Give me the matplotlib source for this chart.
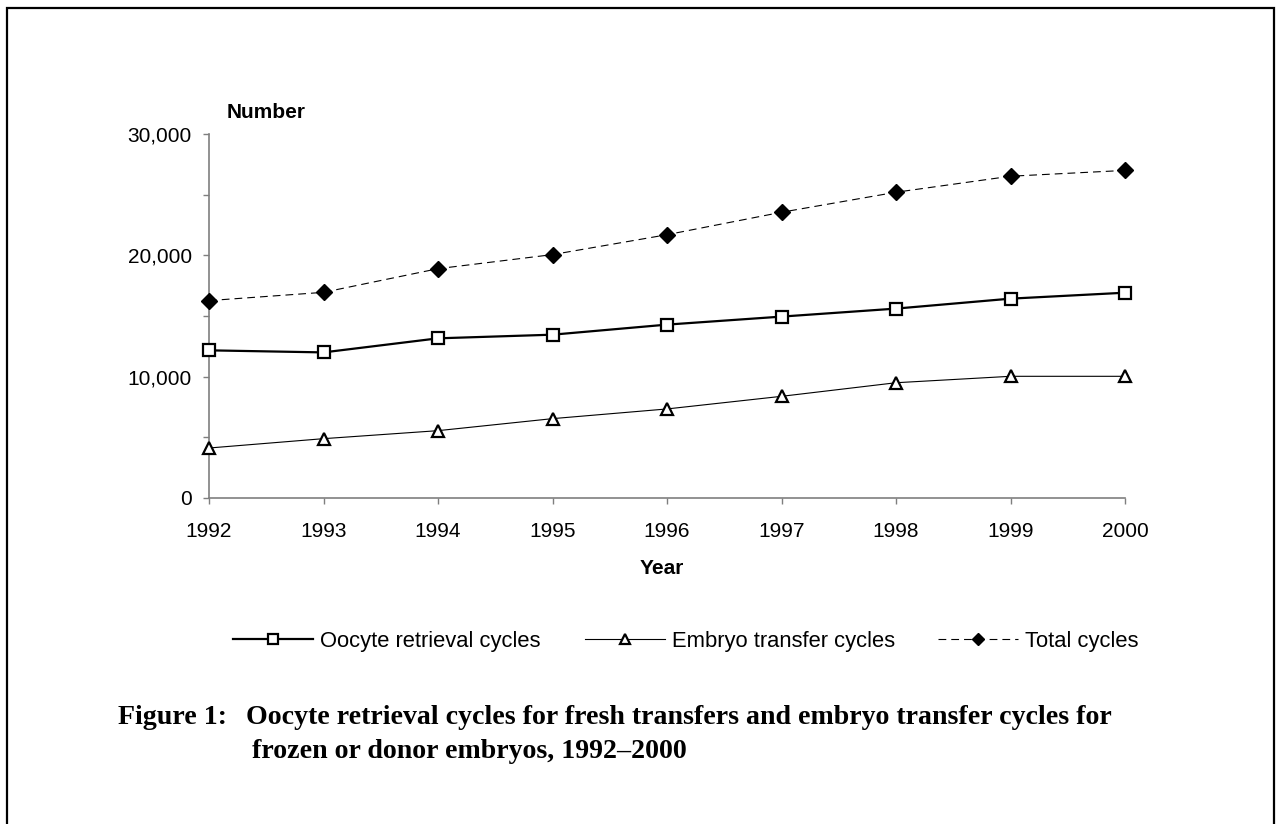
import matplotlib
matplotlib.use("Agg")
import matplotlib.pyplot as plt
from matplotlib.ticker import MultipleLocator, FuncFormatter
from matplotlib.patches import Rectangle

# data
years = [1992, 1993, 1994, 1995, 1996, 1997, 1998, 1999, 2000]
oocyte = [12170, 12000, 13160, 13460, 14290, 14950, 15610, 16430, 16920]
embryo = [4120, 4890, 5550, 6540, 7340, 8380, 9500, 10030, 10030]
total = [16270, 16950, 18900, 20060, 21700, 23550, 25200, 26520, 27000]
series_labels = ['Oocyte retrieval cycles', 'Embryo transfer cycles', 'Total cycles']

plt.rcParams['font.family'] = ['Liberation Sans', 'DejaVu Sans']
FS = 15

fig = plt.figure(figsize=(12.76, 8.24), dpi=100)
ax = fig.add_axes([209 / 1276, 1 - 498 / 824, 916 / 1276, 364 / 824])

l1, = ax.plot(years, oocyte, color='black', lw=1.6, marker='s', ms=9,
              mfc='white', mec='black', mew=1.6, clip_on=False, zorder=4)
l2, = ax.plot(years, embryo, color='black', lw=0.8, marker='^', ms=9,
              mfc='white', mec='black', mew=1.6, clip_on=False, zorder=4)
l3, = ax.plot(years, total, color='black', lw=0.8, ls=(0, (7, 4.5)), marker='D',
              ms=8, mfc='black', mec='black', clip_on=False, zorder=4)

ax.set_xlim(1992, 2000)
ax.set_ylim(0, 30000)
ax.set_xticks(years)
ax.yaxis.set_major_locator(MultipleLocator(10000))
ax.yaxis.set_minor_locator(MultipleLocator(5000))
ax.yaxis.set_major_formatter(FuncFormatter(lambda v, p: f"{int(v):,}"))

for side in ['top', 'right']:
    ax.spines[side].set_visible(False)
for side in ['left', 'bottom']:
    ax.spines[side].set_color('#7f7f7f')
    ax.spines[side].set_linewidth(1.2)

ax.tick_params(axis='both', which='both', direction='out', length=4,
               color='#7f7f7f', width=1.0, labelsize=FS)
ax.tick_params(axis='y', pad=8.5)
ax.tick_params(axis='x', pad=13)

fig.text(227 / 1276, 1 - 113 / 824, 'Number', fontsize=FS, fontweight='bold',
         ha='left', va='center')
fig.text(662 / 1276, 1 - 569 / 824, 'Year', fontsize=FS, fontweight='bold',
         ha='center', va='center')

# Excel-style legend: equal-width entries, one small legend per series
for handle, label, x0 in zip([l1, l2, l3], series_labels, [233, 585, 938]):
    fig.legend([handle], [label], loc='center left',
               bbox_to_anchor=(x0 / 1276, 1 - 641 / 824),
               frameon=False, fontsize=15.8, handlelength=3.65,
               handletextpad=0.32, borderpad=0, borderaxespad=0,
               markerscale=0.75)

cap = dict(fontsize=20.1, fontweight='bold', family=['Liberation Serif', 'DejaVu Serif'],
           va='center', ha='left')
fig.text(118 / 1276, 1 - 718 / 824, 'Figure 1:', **cap)
fig.text(246 / 1276, 1 - 718 / 824,
         'Oocyte retrieval cycles for fresh transfers and embryo transfer cycles for', **cap)
fig.text(252 / 1276, 1 - 751 / 824, 'frozen or donor embryos, 1992\u20132000', **cap)

# page border around the figure
fig.patches.append(Rectangle((6.5 / 1276, -0.05), 1267 / 1276, 1.05 - 7.5 / 824,
                             transform=fig.transFigure, fill=False,
                             edgecolor='black', linewidth=1.6))

fig.savefig('out.png', dpi=100)
